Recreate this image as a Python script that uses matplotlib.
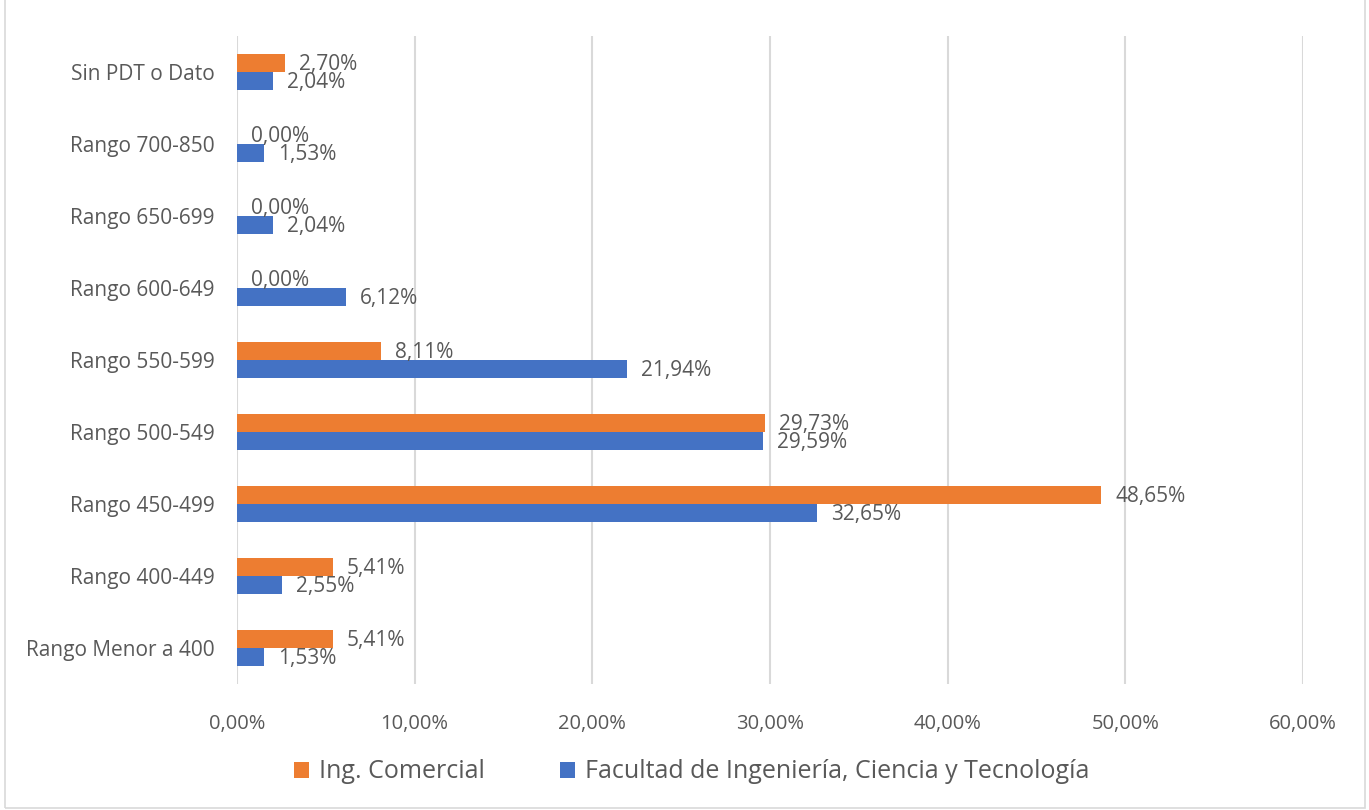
import matplotlib.pyplot as plt
import numpy as np
from matplotlib.patches import Rectangle

categories = ["Rango Menor a 400", "Rango 400-449", "Rango 450-499", "Rango 500-549",
              "Rango 550-599", "Rango 600-649", "Rango 650-699", "Rango 700-850",
              "Sin PDT o Dato"]
ing_comercial = [5.41, 5.41, 48.65, 29.73, 8.11, 0.00, 0.00, 0.00, 2.70]
facultad = [1.53, 2.55, 32.65, 29.59, 21.94, 6.12, 2.04, 1.53, 2.04]
x_ticks = [0, 10, 20, 30, 40, 50, 60]

orange = "#ED7D31"
blue = "#4472C4"
txt = "#595959"
plt.rcParams["font.family"] = ["Open Sans", "DejaVu Sans"]

fig = plt.figure(figsize=(13.69, 8.10), dpi=100)
ax = fig.add_axes([0.1731, 0.156, 0.7787, 0.8])

y = np.arange(len(categories))
h = 0.25
b1 = ax.barh(y + h / 2, ing_comercial, height=h, color=orange, label="Ing. Comercial", zorder=3)
b2 = ax.barh(y - h / 2, facultad, height=h, color=blue,
             label="Facultad de Ingeniería, Ciencia y Tecnología", zorder=3)

def fmt(v):
    return f"{v:.2f}".replace(".", ",") + "%"

for bars, vals in ((b1, ing_comercial), (b2, facultad)):
    for bar, v in zip(bars, vals):
        ax.annotate(fmt(v), (v, bar.get_y() + bar.get_height() / 2),
                    xytext=(10, -1), textcoords="offset points",
                    ha="left", va="center", fontsize=15, color=txt, zorder=4)

ax.set_xlim(0, 60)
ax.set_ylim(-0.5, len(categories) - 0.5)
ax.set_xticks(x_ticks)
ax.set_xticklabels([fmt(t) for t in x_ticks])
ax.set_yticks(y)
ax.set_yticklabels(categories)
ax.tick_params(axis="x", length=0, pad=22, labelsize=14.5, labelcolor=txt)
ax.tick_params(axis="y", length=0, pad=16, labelsize=15, labelcolor=txt)
ax.grid(axis="x", color="#d9d9d9", linewidth=1.5, zorder=0)
for s in ax.spines.values():
    s.set_visible(False)

fig.legend(loc="center", bbox_to_anchor=(0.505, 0.047), ncol=2, frameon=False,
           fontsize=18, labelcolor=txt, handlelength=0.6, handleheight=0.6,
           handletextpad=0.4, columnspacing=3.0)

fig.patches.append(Rectangle((0.004, 0.003), 0.993, 1.0, transform=fig.transFigure,
                             fill=False, edgecolor="#d9d9d9", linewidth=1.2))

fig.savefig("out.png", dpi=100)
